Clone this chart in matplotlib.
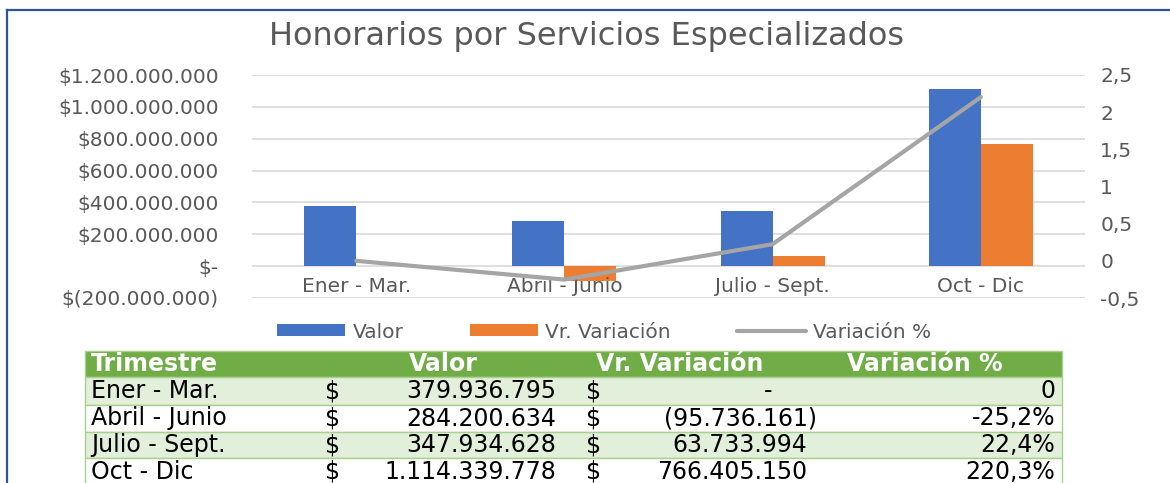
import numpy as np
import matplotlib
matplotlib.use("Agg")
import matplotlib.pyplot as plt
from matplotlib.patches import Rectangle
from matplotlib.lines import Line2D

# ---------------- data ----------------
categorias = ["Ener - Mar.", "Abril - Junio", "Julio - Sept.", "Oct - Dic"]
valor = [379936795, 284200634, 347934628, 1114339778]
vr_variacion = [0, -95736161, 63733994, 766405150]
variacion_pct = [0.0, -0.252, 0.224, 2.203]
titulo = "Honorarios por Servicios Especializados"
serie_labels = ["Valor", "Vr. Variación", "Variación %"]
tabla_headers = ["Trimestre", "Valor", "Vr. Variación", "Variación %"]
left_ticks = [-200e6, 0, 200e6, 400e6, 600e6, 800e6, 1000e6, 1200e6]
right_ticks = [-0.5, 0, 0.5, 1, 1.5, 2, 2.5]

# ---------------- styles ----------------
BLUE = "#4472C4"
ORANGE = "#ED7D31"
GRAY = "#A5A5A5"
TXT = "#595959"
GRID = "#D9D9D9"
GREEN = "#70AD47"
LGREEN = "#E2EFDA"
BORDER = "#A9D08E"
FRAME = "#2F5597"

W, H = 1170, 483
plt.rcParams['font.family'] = ['DejaVu Sans']

fig = plt.figure(figsize=(W / 100, H / 100), dpi=100)


def fx(px):
    return px / W


def fy(py):
    return 1 - py / H


def miles(n):
    return f"{abs(int(round(n))):,}".replace(",", ".")


def fmt_left(v, pos=None):
    if v == 0:
        return "$-"
    if v < 0:
        return "$(" + miles(v) + ")"
    return "$" + miles(v)


def fmt_right(v, pos=None):
    return f"{v:g}".replace(".", ",")


CFS = 14.5  # chart text size

# ---------------- chart ----------------
ax = fig.add_axes([fx(252), fy(298), (1085 - 252) / W, (298 - 75) / H])
ax2 = ax.twinx()

x = np.arange(len(categorias))
bw = 0.25
b1 = ax.bar(x - bw / 2, valor, width=bw, color=BLUE, zorder=2)
b2 = ax.bar(x + bw / 2, vr_variacion, width=bw, color=ORANGE, zorder=2)

ax.set_xlim(-0.5, len(categorias) - 0.5)
ax.set_ylim(left_ticks[0], left_ticks[-1])
ax.set_yticks(left_ticks)
ax.yaxis.set_major_formatter(plt.FuncFormatter(fmt_left))
ax.grid(axis="y", color=GRID, lw=1.2)
ax.set_axisbelow(True)
ax.set_xticks([])
for s in ax.spines.values():
    s.set_visible(False)
ax.tick_params(axis="y", length=0, pad=24, labelsize=CFS, labelcolor=TXT)

for i, c in enumerate(categorias):
    ax.text(i, -125e6, c, ha="center", va="center", fontsize=CFS, color=TXT, zorder=5)

l1, = ax2.plot(x, variacion_pct, color=GRAY, lw=3.0, solid_capstyle="round", solid_joinstyle="round")
ax2.set_ylim(right_ticks[0], right_ticks[-1])
ax2.set_yticks(right_ticks)
ax2.yaxis.set_major_formatter(plt.FuncFormatter(fmt_right))
for s in ax2.spines.values():
    s.set_visible(False)
ax2.tick_params(axis="y", length=0, pad=11, labelsize=CFS, labelcolor=TXT)

fig.text(fx(587), fy(36), titulo, ha="center", va="center", fontsize=23, color=TXT)

fig.legend([b1, b2, l1], serie_labels, loc="center", bbox_to_anchor=(fx(604), fy(332)),
           ncol=3, frameon=False, fontsize=CFS, handlelength=3.4, handleheight=0.55,
           handletextpad=0.35, columnspacing=3.3, labelcolor=TXT)

# ---------------- frame ----------------
fig.add_artist(Line2D([fx(7), fx(W)], [fy(10), fy(10)], color=FRAME, lw=1.6))
fig.add_artist(Line2D([fx(7), fx(7)], [fy(10), fy(H)], color=FRAME, lw=1.6))

# ---------------- table ----------------
tx0, tx1 = 85, 1062
row_edges = [351, 377, 405, 432, 458, 486]
fills = [GREEN, LGREEN, "white", LGREEN, "white"]
for r in range(len(row_edges) - 1):
    y0, y1 = row_edges[r], row_edges[r + 1]
    fig.add_artist(Rectangle((fx(tx0), fy(y1)), (tx1 - tx0) / W, (y1 - y0) / H,
                             transform=fig.transFigure, facecolor=fills[r],
                             edgecolor=BORDER, lw=1.0))

TFS = 17
hy = (row_edges[0] + row_edges[1]) / 2
hkw = dict(va="center", fontsize=TFS, color="white", fontweight="bold")
fig.text(fx(91), fy(hy), tabla_headers[0], ha="left", **hkw)
fig.text(fx(443), fy(hy), tabla_headers[1], ha="center", **hkw)
fig.text(fx(680), fy(hy), tabla_headers[2], ha="center", **hkw)
fig.text(fx(925), fy(hy), tabla_headers[3], ha="center", **hkw)

for i, c in enumerate(categorias):
    cy = fy((row_edges[i + 1] + row_edges[i + 2]) / 2)
    kw = dict(va="center", fontsize=TFS, color="black")
    fig.text(fx(91), cy, c, ha="left", **kw)
    fig.text(fx(325), cy, "$", ha="left", **kw)
    fig.text(fx(556), cy, miles(valor[i]), ha="right", **kw)
    fig.text(fx(586), cy, "$", ha="left", **kw)
    v = vr_variacion[i]
    if v == 0:
        fig.text(fx(768), cy, "-", ha="center", **kw)
    elif v < 0:
        fig.text(fx(817), cy, "(" + miles(v) + ")", ha="right", **kw)
    else:
        fig.text(fx(807), cy, miles(v), ha="right", **kw)
    p = variacion_pct[i]
    ptxt = "0" if p == 0 else f"{p * 100:.1f}%".replace(".", ",")
    fig.text(fx(1055), cy, ptxt, ha="right", **kw)

fig.savefig("out.png", dpi=100)
